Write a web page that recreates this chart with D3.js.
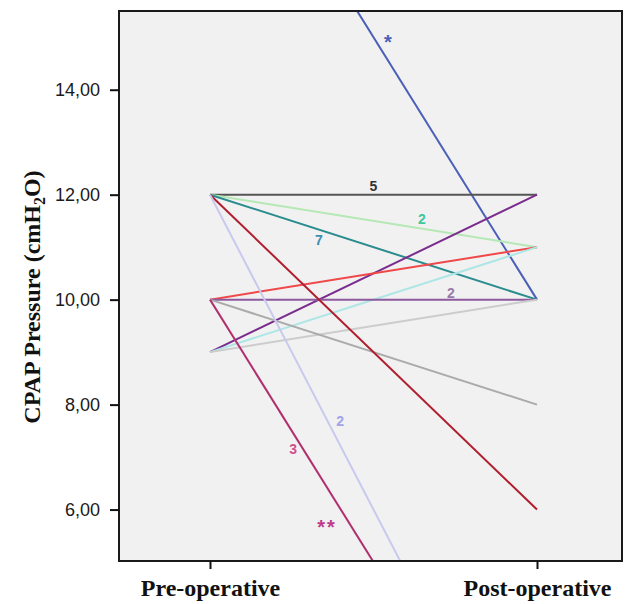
<!DOCTYPE html>
<html>
<head>
<meta charset="utf-8">
<script src="https://cdn.jsdelivr.net/npm/d3@7"></script>
<style>
  body { margin: 0; background: #fff; }
  .tick text { font-family: "Liberation Sans", Arial, sans-serif; font-size: 18px; fill: #1a1a1a; }
  .axis path, .axis line { stroke: #111; }
</style>
</head>
<body>
<svg id="chart" width="625" height="604"></svg>
<script>
var times = ["Pre-operative", "Post-operative"];
var yTicks = [6, 8, 10, 12, 14];

// one entry per patient group line: pre, post
var preValues  = [20, 12, 12, 12, 9, 10, 9, 10, 9, 10, 12, 12, 10];
var postValues = [10, 12, 11, 10, 12, 11, 11, 10, 10, 8, 6, 0, 0];
var lineColors = ["#4a5fb8", "#555555", "#b4e8b4", "#2a8c8e", "#7b2d8e", "#f04848",
                  "#aee6e6", "#8e5a9e", "#cccccc", "#aaaaaa", "#b01e2e", "#c9c9ef", "#b0306e"];

// count labels: fraction along the x span, y value, text, colour
var labelFrac  = [0.5, 0.648, 0.333, 0.737, 0.398, 0.254, 0.358, 0.544];
var labelValue = [12.16, 11.54, 11.14, 10.13, 7.68, 7.15, 5.66, 14.9];
var labelText  = ["5", "2", "7", "2", "2", "3", "**", "*"];
var labelColor = ["#333333", "#3cc89c", "#3a8fb2", "#9a7aa8", "#9ea4e8", "#d24f8f", "#c03a8a", "#4a5fb8"];

var svg = d3.select("#chart"),
    margin = {top: 11, right: 3, bottom: 43, left: 119},
    width = +svg.attr("width") - margin.left - margin.right,
    height = +svg.attr("height") - margin.top - margin.bottom;

var x = d3.scalePoint().domain(times).range([91, 418]);
var y = d3.scaleLinear().domain([5.02, 15.5]).range([height, 0]);

var g = svg.append("g")
    .attr("transform", "translate(" + margin.left + "," + margin.top + ")");

g.append("rect")
    .attr("width", width)
    .attr("height", height)
    .attr("fill", "#f1f1f1");

g.append("clipPath").attr("id", "clip")
  .append("rect").attr("width", width).attr("height", height);

var groups = preValues.map(function(d, i) {
    return {pre: d, post: postValues[i], color: lineColors[i]};
});

var plot = g.append("g").attr("clip-path", "url(#clip)");

plot.selectAll(".series")
    .data(groups)
    .enter().append("line")
    .attr("class", "series")
    .attr("x1", x(times[0]))
    .attr("x2", x(times[1]))
    .attr("y1", function(d) { return y(d.pre); })
    .attr("y2", function(d) { return y(d.post); })
    .attr("stroke", function(d) { return d.color; })
    .attr("stroke-width", 2);

plot.selectAll(".lbl")
    .data(labelText)
    .enter().append("text")
    .attr("class", "lbl")
    .attr("x", function(d, i) {
        return x(times[0]) + labelFrac[i] * (x(times[1]) - x(times[0]));
    })
    .attr("y", function(d, i) { return y(labelValue[i]); })
    .attr("dy", "0.35em")
    .attr("text-anchor", "middle")
    .style("font-family", "'Liberation Sans', Arial, sans-serif")
    .style("font-weight", "bold")
    .style("font-size", function(d) { return d.indexOf("*") >= 0 ? "20px" : "14px"; })
    .style("letter-spacing", function(d) { return d === "**" ? "2px" : null; })
    .style("fill", function(d, i) { return labelColor[i]; })
    .text(function(d) { return d; });

// frame
g.append("rect")
    .attr("width", width)
    .attr("height", height)
    .attr("fill", "none")
    .attr("stroke", "#1a1a1a")
    .attr("stroke-width", 2);

g.append("g")
    .attr("class", "axis")
    .call(d3.axisLeft(y).tickValues(yTicks).tickSize(9).tickPadding(10)
        .tickFormat(function(d) { return d3.format(".2f")(d).replace(".", ","); }))
    .call(function(a) { a.select(".domain").remove(); })
    .selectAll("line").attr("stroke-width", 2);

var xa = g.append("g")
    .attr("class", "axis")
    .attr("transform", "translate(0," + height + ")")
    .call(d3.axisBottom(x).tickSize(8).tickPadding(10));
xa.select(".domain").remove();
xa.selectAll("line").attr("stroke-width", 2);
xa.selectAll("text")
    .style("font-family", "'Liberation Serif', 'Times New Roman', serif")
    .style("font-weight", "bold")
    .style("font-size", "24px")
    .style("fill", "#111");

var title = svg.append("text")
    .attr("transform", "translate(40," + (margin.top + y(10.05)) + ") rotate(-90)")
    .attr("text-anchor", "middle")
    .style("font-family", "'Liberation Serif', 'Times New Roman', serif")
    .style("font-weight", "bold")
    .style("font-size", "24px")
    .style("fill", "#111");
title.append("tspan").text("CPAP Pressure (cmH");
title.append("tspan").attr("dy", "5").style("font-size", "16px").text("2");
title.append("tspan").attr("dy", "-5").text("O)");
</script>
</body>
</html>
